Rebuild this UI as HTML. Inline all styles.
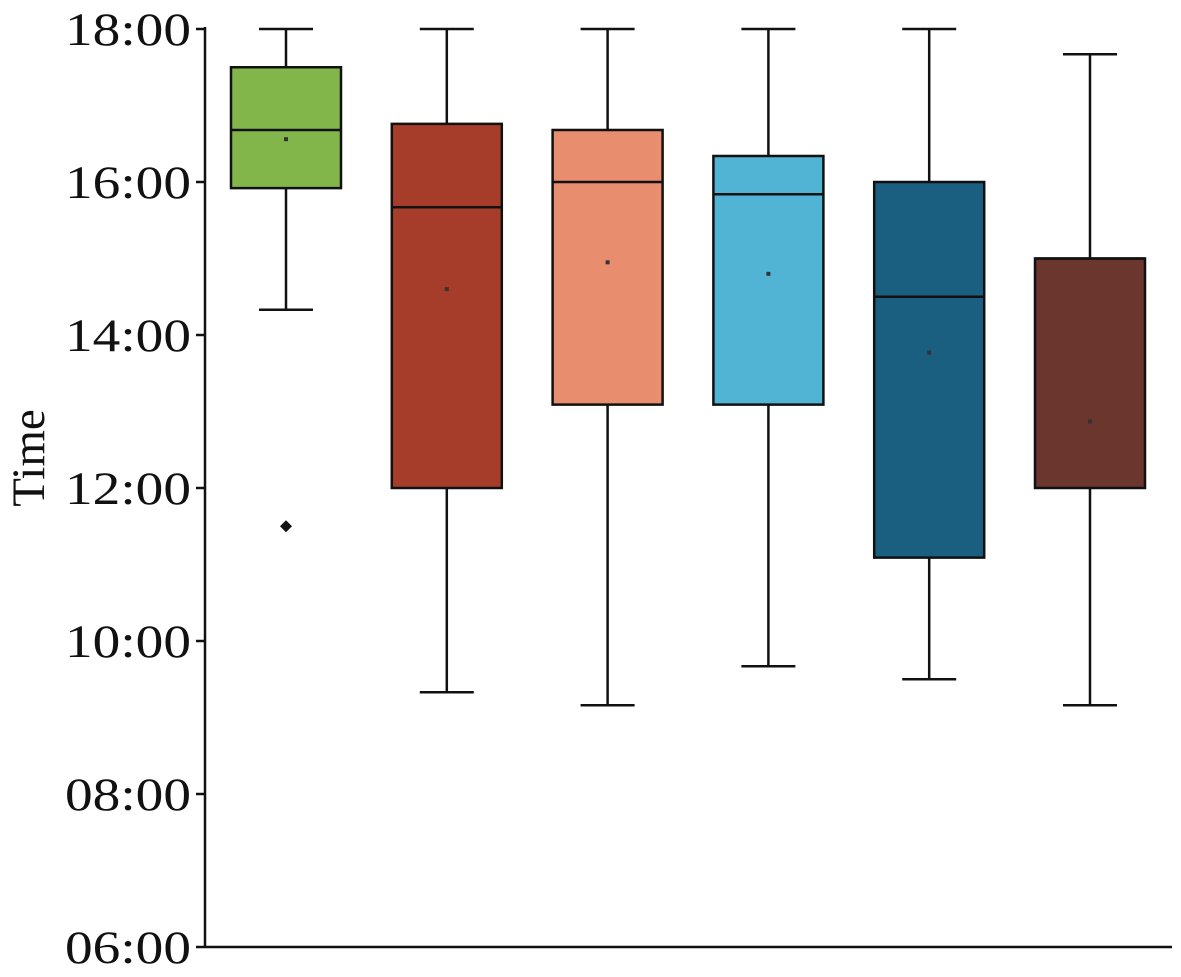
<!DOCTYPE html>
<html><head><meta charset="utf-8"><style>
html,body{margin:0;padding:0;background:#fff;}
svg text{font-family:"Liberation Serif","Times New Roman",serif;fill:#111;}
</style></head><body>
<svg id="chart" width="1181" height="972" xmlns="http://www.w3.org/2000/svg"></svg>
<script>
const categories=["g1","g2","g3","g4","g5","g6"];
const whiskerHigh=[18,18,18,18,18,17.67];
const q3Values=[17.5,16.76,16.68,16.34,16,15];
const medianValues=[16.68,15.67,16,15.84,14.5,15];
const q1Values=[15.92,12,13.09,13.09,11.09,12];
const whiskerLow=[14.33,9.33,9.16,9.67,9.5,9.16];
const meanValues=[16.56,14.6,14.95,14.8,13.77,12.87];
const outliers=[[0,11.5]];
const tickValues=[6,8,10,12,14,16,18];
const tickLabels=["06:00","08:00","10:00","12:00","14:00","16:00","18:00"];
const colors=["#82b64a","#a63d2a","#e88d6d","#52b4d5","#1a5e80","#6b362e"];

const NS="http://www.w3.org/2000/svg";
const svg=document.getElementById('chart');
const y=v=>947-(v-6)*(918/12);
const xc=i=>286+i*160.8;
const bw=110;
function mk(tag,attrs,parent){const e=document.createElementNS(NS,tag);for(const k in attrs)e.setAttribute(k,attrs[k]);(parent||svg).appendChild(e);return e;}

const ax=mk('g',{});


mk('line',{x1:205,y1:27,x2:205,y2:948,stroke:'#111','stroke-width':2.5},ax);
const xa=mk('line',{x1:205,y1:947,x2:1172,y2:947,stroke:'#111','stroke-width':2.5});


tickValues.forEach((v,i)=>{
  mk('line',{x1:196,y1:y(v),x2:205,y2:y(v),stroke:'#111','stroke-width':2.5},ax);
  const t=mk('text',{x:191,y:y(v)+16,'text-anchor':'end','font-size':47,textLength:126,lengthAdjust:'spacingAndGlyphs'},ax);
  t.textContent=tickLabels[i];
  
  
});
const title=mk('text',{x:0,y:0,transform:'translate(44,458) rotate(-90)','text-anchor':'middle','font-size':47});
title.textContent="Time";



categories.forEach((c,i)=>{
  const g=mk('g',{});
  
  
  const cx=xc(i),s={stroke:'#111','stroke-width':2.5};
  mk('line',Object.assign({x1:cx,y1:y(whiskerHigh[i]),x2:cx,y2:y(q3Values[i])},s),g);
  mk('line',Object.assign({x1:cx,y1:y(q1Values[i]),x2:cx,y2:y(whiskerLow[i])},s),g);
  mk('line',Object.assign({x1:cx-27,y1:y(whiskerHigh[i]),x2:cx+27,y2:y(whiskerHigh[i])},s),g);
  mk('line',Object.assign({x1:cx-27,y1:y(whiskerLow[i]),x2:cx+27,y2:y(whiskerLow[i])},s),g);
  mk('rect',Object.assign({x:cx-bw/2,y:y(q3Values[i]),width:bw,height:y(q1Values[i])-y(q3Values[i]),fill:colors[i]},s),g);
  mk('line',Object.assign({x1:cx-bw/2,y1:y(medianValues[i]),x2:cx+bw/2,y2:y(medianValues[i])},s),g);
  mk('rect',{x:cx-2,y:y(meanValues[i])-2,width:4,height:4,fill:'#333'},g);
});
outliers.forEach(o=>{
  const cx=xc(o[0]),cy=y(o[1]);
  const p=mk('polygon',{points:`${cx},${cy-6} ${cx+6},${cy} ${cx},${cy+6} ${cx-6},${cy}`,fill:'#111'});
  
  
});
</script>
</body></html>
